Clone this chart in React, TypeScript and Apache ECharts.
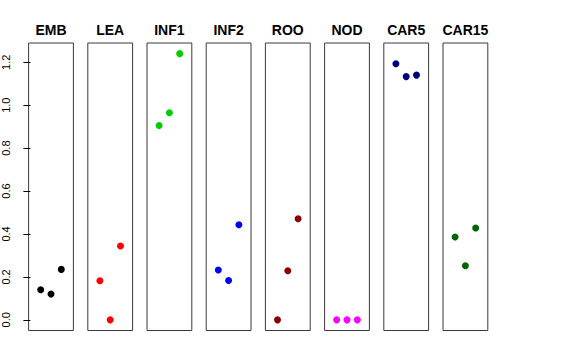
import React, { useEffect, useRef } from "react";
import * as echarts from "echarts";

const panels = ["EMB", "LEA", "INF1", "INF2", "ROO", "NOD", "CAR5", "CAR15"];
const colors = ["#000000", "#FF0000", "#00CD00", "#0000FF", "#8B0000", "#FF00FF", "#000080", "#006400"];
const positions = [1, 2, 3];
const embValues = [0.14, 0.12, 0.235];
const leaValues = [0.182, 0.0, 0.344];
const inf1Values = [0.905, 0.965, 1.24];
const inf2Values = [0.232, 0.183, 0.443];
const rooValues = [0.0, 0.229, 0.471];
const nodValues = [0.0, 0.0, 0.0];
const car5Values = [1.193, 1.133, 1.14];
const car15Values = [0.386, 0.252, 0.428];
const yTicks = [0, 0.2, 0.4, 0.6, 0.8, 1.0, 1.2];

const allValues = [embValues, leaValues, inf1Values, inf2Values, rooValues, nodValues, car5Values, car15Values];

const FONT = "'Liberation Sans', Arial, Helvetica, sans-serif";

export default function App() {
  const ref = useRef<HTMLDivElement>(null);
  useEffect(() => {
    if (!ref.current) return;
    const chart = echarts.init(ref.current, undefined, { renderer: "svg" });
    const panelLeft0 = 28.6;
    const step = 59.2;
    const panelW = 44.8;
    const top = 43;
    const height = 287.5;
    const yMin = -0.0496;
    const yMax = 1.2896;

    const grids = panels.map((_, i) => ({
      left: panelLeft0 + i * step,
      top,
      width: panelW,
      height,
      show: true,
      borderColor: "#3a3a3a",
      borderWidth: 1,
      backgroundColor: "transparent",
      containLabel: false,
    }));
    const xAxes = panels.map((_, i) => ({
      type: "value",
      gridIndex: i,
      min: -0.175,
      max: 4.175,
      show: false,
    }));
    const yAxes = panels.map((_, i) => ({
      type: "value",
      gridIndex: i,
      min: yMin,
      max: yMax,
      show: i === 0,
      splitLine: { show: false },
      axisLine: { show: false },
      axisTick: {
        show: i === 0,
        length: 7,
        inside: false,
        customValues: yTicks,
        lineStyle: { color: "#000", width: 1 },
      },
      axisLabel: {
        show: i === 0,
        customValues: yTicks,
        rotate: 90,
        margin: 17,
        color: "#000",
        fontSize: 11,
        fontFamily: FONT,
        formatter: (v: number) => v.toFixed(1),
      },
    }));
    const titles = panels.map((name, i) => ({
      text: name,
      left: panelLeft0 + i * step + panelW / 2,
      top: 23,
      textAlign: "center",
      padding: 0,
      textStyle: { fontSize: 14, fontWeight: "bold", color: "#000", fontFamily: FONT },
    }));
    const series = panels.map((name, i) => ({
      type: "scatter",
      name,
      xAxisIndex: i,
      yAxisIndex: i,
      symbol: "circle",
      symbolSize: 7,
      itemStyle: { color: colors[i], opacity: 1 },
      data: positions.map((p, j) => [p, allValues[i][j]]),
    }));

    chart.setOption({
      animation: false,
      backgroundColor: "#fff",
      title: titles,
      grid: grids,
      xAxis: xAxes,
      yAxis: yAxes,
      series,
    } as any);
    return () => chart.dispose();
  }, []);
  return (
    <div
      ref={ref}
      style={{ position: "absolute", left: 0, top: 0, width: 576, height: 360 }}
    />
  );
}
